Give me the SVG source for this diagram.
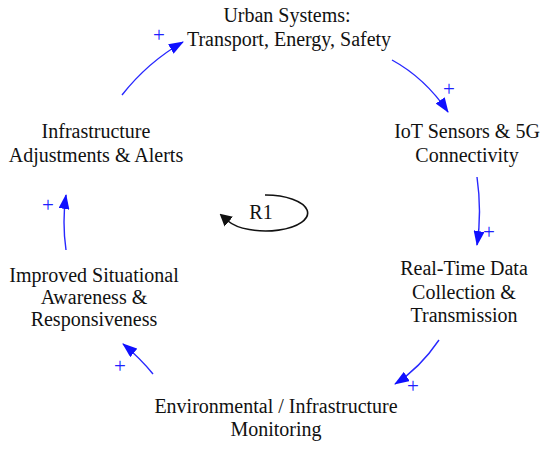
<svg xmlns="http://www.w3.org/2000/svg" width="550" height="449" viewBox="0 0 550 449">
<style>
.lbl{font-family:"Liberation Serif","Times New Roman",serif;font-size:20px;fill:#111;text-anchor:middle}
.pol{font-family:"Liberation Serif","Times New Roman",serif;font-size:21px;fill:#2020ff;text-anchor:middle}
.lnk{fill:none;stroke:#2828ff;stroke-width:1.4}
.loop{fill:none;stroke:#111;stroke-width:1.6}
</style>
<defs>
<marker id="ah" viewBox="0 0 15 11" refX="14" refY="5.5" markerWidth="15" markerHeight="11" markerUnits="userSpaceOnUse" orient="auto">
<path d="M0,0 L15,5.5 L0,11 z" fill="#1010ff"/>
</marker>
<marker id="ahk" viewBox="0 0 12 13" refX="1" refY="6.5" markerWidth="12" markerHeight="13" markerUnits="userSpaceOnUse" orient="auto">
<path d="M0,0 L12,6.5 L0,13 z" fill="#111"/>
</marker>
</defs>
<rect width="550" height="449" fill="#fff"/>
<g id="connectors">
<path class="lnk" d="M122,95 Q148,62 183,42" marker-end="url(#ah)"/>
<path class="lnk" d="M392,60 Q425,78 448,112" marker-end="url(#ah)"/>
<path class="lnk" d="M477,177 Q482,212 477,245" marker-end="url(#ah)"/>
<path class="lnk" d="M439,340 Q420,368 395,384" marker-end="url(#ah)"/>
<path class="lnk" d="M153,374 Q140,358 123,344" marker-end="url(#ah)"/>
<path class="lnk" d="M66,250 Q62,222 66,195" marker-end="url(#ah)"/>
<text class="pol" x="159" y="42">+</text>
<text class="pol" x="449" y="96">+</text>
<text class="pol" x="489" y="239">+</text>
<text class="pol" x="413" y="393">+</text>
<text class="pol" x="120" y="373">+</text>
<text class="pol" x="48" y="212">+</text>
</g>
<g id="loop-R1">
<path class="loop" d="M265,195 A42,18 0 1 1 228,221" marker-end="url(#ahk)"/>
<text class="lbl" x="261" y="219">R1</text>
</g>
<g id="urban-systems">
<text class="lbl" x="287" y="22">Urban Systems:</text>
<text class="lbl" x="289" y="46">Transport, Energy, Safety</text>
</g>
<g id="iot-sensors">
<text class="lbl" x="467" y="138">IoT Sensors &amp; 5G</text>
<text class="lbl" x="467" y="162">Connectivity</text>
</g>
<g id="realtime-data">
<text class="lbl" x="464" y="275">Real-Time Data</text>
<text class="lbl" x="464" y="299">Collection &amp;</text>
<text class="lbl" x="464" y="322">Transmission</text>
</g>
<g id="env-monitoring">
<text class="lbl" x="276" y="413">Environmental / Infrastructure</text>
<text class="lbl" x="276" y="436">Monitoring</text>
</g>
<g id="situational-awareness">
<text class="lbl" x="94" y="282">Improved Situational</text>
<text class="lbl" x="94" y="304">Awareness &amp;</text>
<text class="lbl" x="94" y="326">Responsiveness</text>
</g>
<g id="infra-adjustments">
<text class="lbl" x="96" y="138">Infrastructure</text>
<text class="lbl" x="96" y="162">Adjustments &amp; Alerts</text>
</g>
</svg>
